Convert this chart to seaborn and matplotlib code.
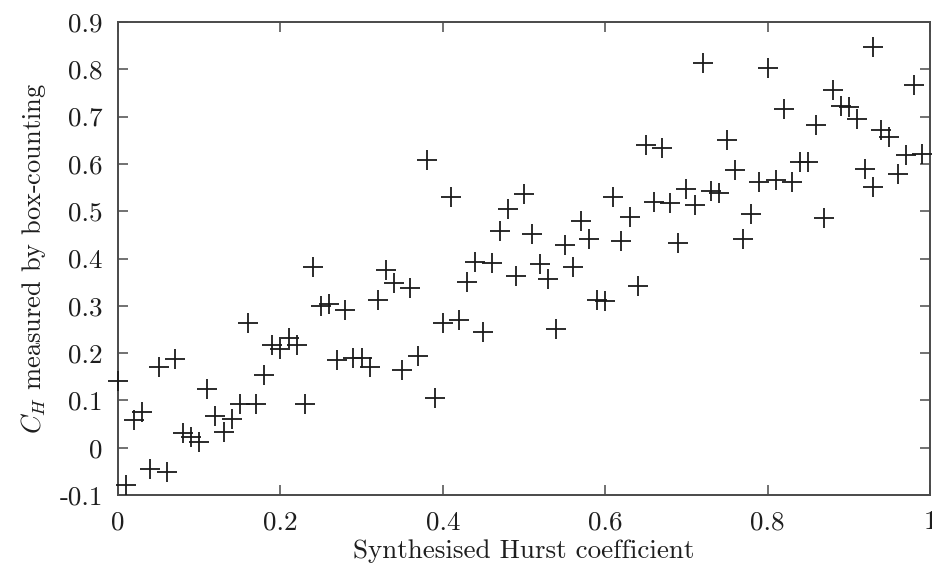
import matplotlib
matplotlib.use("Agg")
import matplotlib.pyplot as plt
import seaborn as sns
import pandas as pd

# Synthesised Hurst coefficient (x) and box-counting estimate C_H (y)
hurst = [0.00, 0.01, 0.02, 0.03, 0.04, 0.05, 0.06, 0.07, 0.08, 0.09,
         0.10, 0.11, 0.12, 0.13, 0.14, 0.15, 0.16, 0.17, 0.18, 0.19,
         0.20, 0.21, 0.22, 0.23, 0.24, 0.25, 0.26, 0.27, 0.28, 0.29,
         0.30, 0.31, 0.32, 0.33, 0.34, 0.35, 0.36, 0.37, 0.38, 0.39,
         0.40, 0.41, 0.42, 0.43, 0.44, 0.45, 0.46, 0.47, 0.48, 0.49,
         0.50, 0.51, 0.52, 0.53, 0.54, 0.55, 0.56, 0.57, 0.58, 0.59,
         0.60, 0.61, 0.62, 0.63, 0.64, 0.65, 0.66, 0.67, 0.68, 0.69,
         0.70, 0.71, 0.72, 0.73, 0.74, 0.75, 0.76, 0.77, 0.78, 0.79,
         0.80, 0.81, 0.82, 0.83, 0.84, 0.85, 0.86, 0.87, 0.88, 0.89,
         0.90, 0.91, 0.92, 0.93, 0.93, 0.94, 0.95, 0.96, 0.97, 0.98,
         0.99]
measured = [0.141, -0.079, 0.059, 0.076, -0.044, 0.171, -0.051, 0.187, 0.032, 0.023,
            0.011, 0.124, 0.068, 0.034, 0.060, 0.092, 0.264, 0.092, 0.154, 0.217,
            0.208, 0.231, 0.217, 0.092, 0.383, 0.300, 0.304, 0.185, 0.291, 0.189,
            0.189, 0.170, 0.312, 0.376, 0.348, 0.164, 0.337, 0.194, 0.608, 0.106,
            0.263, 0.529, 0.270, 0.350, 0.393, 0.245, 0.390, 0.459, 0.505, 0.363,
            0.536, 0.451, 0.388, 0.356, 0.252, 0.429, 0.383, 0.479, 0.441, 0.312,
            0.310, 0.531, 0.438, 0.488, 0.342, 0.639, 0.520, 0.633, 0.517, 0.432,
            0.547, 0.513, 0.813, 0.543, 0.538, 0.651, 0.587, 0.441, 0.494, 0.561,
            0.802, 0.565, 0.716, 0.561, 0.603, 0.603, 0.682, 0.485, 0.756, 0.722,
            0.720, 0.694, 0.589, 0.848, 0.552, 0.672, 0.656, 0.579, 0.619, 0.767,
            0.620]

x_ticks = [0.0, 0.2, 0.4, 0.6, 0.8, 1.0]
x_tick_labels = ["0", "0.2", "0.4", "0.6", "0.8", "1"]
y_ticks = [-0.1, 0.0, 0.1, 0.2, 0.3, 0.4, 0.5, 0.6, 0.7, 0.8, 0.9]
y_tick_labels = ["-0.1", "0", "0.1", "0.2", "0.3", "0.4", "0.5", "0.6", "0.7", "0.8", "0.9"]

sns.set_theme(style="white")
plt.rcParams["font.family"] = ["cmr10", "DejaVu Serif"]
plt.rcParams["mathtext.fontset"] = "cm"
plt.rcParams["axes.formatter.use_mathtext"] = True

df = pd.DataFrame({"hurst": hurst, "measured": measured})

fig = plt.figure(figsize=(9.32, 5.71), dpi=100)
ax = fig.add_axes([118 / 932, 1 - 495 / 571, 812 / 932, 473 / 571])

sns.scatterplot(data=df, x="hurst", y="measured", marker="+", s=210,
                color="#1a1a1a", linewidth=1.3, ax=ax, clip_on=False, zorder=3)

ax.set_xlim(0, 1)
ax.set_ylim(-0.1, 0.9)
ax.set_xticks(x_ticks)
ax.set_xticklabels(x_tick_labels)
ax.set_yticks(y_ticks)
ax.set_yticklabels(y_tick_labels)

frame_color = "#4a4a4a"
for side in ["left", "right", "top", "bottom"]:
    ax.spines[side].set_visible(True)
    ax.spines[side].set_color(frame_color)
    ax.spines[side].set_linewidth(1.4)

ax.tick_params(axis="both", which="major", direction="in", length=7, width=1.1,
               color=frame_color, labelsize=19.5, labelcolor="#1e1e1e",
               top=True, right=True, bottom=True, left=True)
ax.tick_params(axis="y", pad=11)
ax.tick_params(axis="x", pad=11)

ax.set_xlabel("Synthesised Hurst coefficient", fontsize=19.5, color="#1e1e1e", labelpad=4)
ax.set_ylabel(r"$C_H$ measured by box-counting", fontsize=19, color="#1e1e1e", labelpad=8)

fig.savefig("out.png", dpi=100, facecolor="white")
